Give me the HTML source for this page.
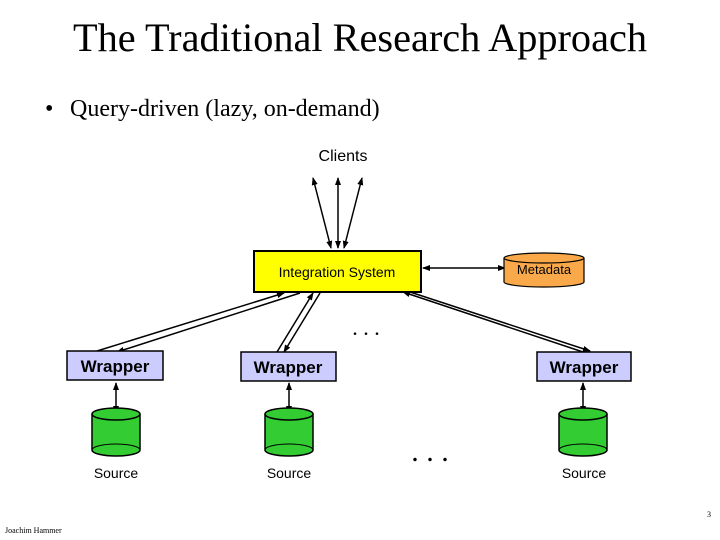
<!DOCTYPE html>
<html><head><style>
body{margin:0;background:#fff;}
svg{display:block;}
</style></head><body>
<svg width="720" height="540" xmlns="http://www.w3.org/2000/svg">
<defs>
<marker id="a" markerWidth="8" markerHeight="8" refX="7" refY="4" orient="auto-start-reverse" markerUnits="userSpaceOnUse">
<path d="M0,1 L8,4 L0,7 Z" fill="#000"/></marker>
</defs>
<text x="360" y="51" font-family="Liberation Serif" font-size="40" text-anchor="middle" textLength="574" lengthAdjust="spacingAndGlyphs">The Traditional Research Approach</text>
<text x="45" y="116" font-family="Liberation Serif" font-size="24">•</text>
<text x="70" y="116" font-family="Liberation Serif" font-size="24">Query-driven (lazy, on-demand)</text>
<text x="343" y="161" font-family="Liberation Sans" font-size="16" text-anchor="middle">Clients</text>
<g stroke="#000" stroke-width="1.5" fill="none">
<line x1="331" y1="248" x2="313" y2="178" marker-start="url(#a)" marker-end="url(#a)"/>
<line x1="338" y1="248" x2="338" y2="178" marker-start="url(#a)" marker-end="url(#a)"/>
<line x1="344" y1="248" x2="362" y2="178" marker-start="url(#a)" marker-end="url(#a)"/>
<line x1="423" y1="268" x2="505" y2="268" marker-start="url(#a)" marker-end="url(#a)"/>
<line x1="97" y1="351" x2="284" y2="293" marker-end="url(#a)"/>
<line x1="117" y1="352" x2="300" y2="293" marker-start="url(#a)"/>
<line x1="277" y1="352" x2="313" y2="293" marker-end="url(#a)"/>
<line x1="284" y1="352" x2="320" y2="293" marker-start="url(#a)"/>
<line x1="403" y1="292" x2="583" y2="352" marker-start="url(#a)"/>
<line x1="410" y1="292" x2="590" y2="351" marker-end="url(#a)"/>
<line x1="116" y1="383" x2="116" y2="413" marker-start="url(#a)" marker-end="url(#a)"/>
<line x1="289" y1="383" x2="289" y2="413" marker-start="url(#a)" marker-end="url(#a)"/>
<line x1="583" y1="383" x2="583" y2="413" marker-start="url(#a)" marker-end="url(#a)"/>
</g>
<rect x="254" y="251" width="167" height="41" fill="#ffff00" stroke="#000" stroke-width="2"/>
<text x="337" y="277" font-family="Liberation Sans" font-size="14" text-anchor="middle">Integration System</text>
<g stroke="#000" stroke-width="1.2">
<path d="M504,258 V282 A40,5 0 0 0 584,282 V258" fill="#f9a94a"/>
<ellipse cx="544" cy="258" rx="40" ry="5" fill="#f9a94a"/>
</g>
<text x="544" y="274" font-family="Liberation Sans" font-size="13" text-anchor="middle">Metadata</text>
<g font-family="Liberation Sans" font-size="17" font-weight="bold" text-anchor="middle">
<rect x="67" y="351" width="96" height="29" fill="#ccccff" stroke="#000" stroke-width="1.5"/>
<text x="115" y="372">Wrapper</text>
<rect x="241" y="352" width="95" height="29" fill="#ccccff" stroke="#000" stroke-width="1.5"/>
<text x="288" y="373">Wrapper</text>
<rect x="537" y="352" width="94" height="29" fill="#ccccff" stroke="#000" stroke-width="1.5"/>
<text x="584" y="373">Wrapper</text>
</g>
<g stroke="#000" stroke-width="1.5" fill="#33cc33">
<path d="M92,414 V450 A24,6 0 0 0 140,450 V414"/><ellipse cx="116" cy="414" rx="24" ry="6"/>
<path d="M265,414 V450 A24,6 0 0 0 313,450 V414"/><ellipse cx="289" cy="414" rx="24" ry="6"/>
<path d="M559,414 V450 A24,6 0 0 0 607,450 V414"/><ellipse cx="583" cy="414" rx="24" ry="6"/>
</g>
<g stroke="#000" stroke-width="1" fill="none">
<path d="M92,450 A24,6 0 0 1 140,450"/>
<path d="M265,450 A24,6 0 0 1 313,450"/>
<path d="M559,450 A24,6 0 0 1 607,450"/>
</g>
<g font-family="Liberation Sans" font-size="14" text-anchor="middle" fill="#000">
<text x="116" y="478">Source</text>
<text x="289" y="478">Source</text>
<text x="584" y="478">Source</text>
</g>
<text x="366" y="335" font-family="Liberation Serif" font-size="22" text-anchor="middle">. . .</text>
<text x="430" y="461" font-family="Liberation Serif" font-size="30" text-anchor="middle">. . .</text>
<text x="707" y="517" font-family="Liberation Serif" font-size="8">3</text>
<text x="5" y="533" font-family="Liberation Serif" font-size="8">Joachim Hammer</text>
</svg>
</body></html>
